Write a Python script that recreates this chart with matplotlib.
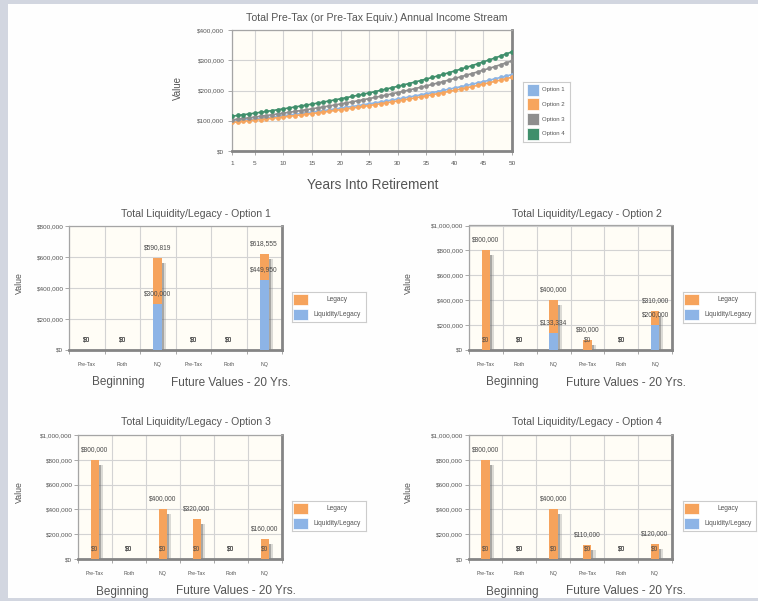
import matplotlib.pyplot as plt
from matplotlib.patches import Rectangle
from matplotlib.ticker import FuncFormatter, FixedLocator

plt.rcParams['font.family'] = ['Liberation Sans', 'DejaVu Sans']

W, H = 758, 601

# ---- income stream data (thousands of dollars per year) ----
years = list(range(1, 51))
income_opt1 = [98.0, 99.9, 101.9, 103.9, 105.9, 108.0, 110.1, 112.2, 114.4, 116.6,
               118.9, 121.2, 123.6, 126.0, 128.5, 131.0, 133.5, 136.2, 138.8, 141.5,
               144.3, 147.1, 150.0, 152.9, 155.9, 158.9, 162.0, 165.2, 168.4, 171.7,
               175.1, 178.5, 182.0, 185.5, 189.2, 192.9, 196.6, 200.5, 204.4, 208.4,
               212.4, 216.6, 220.8, 225.1, 229.5, 234.0, 238.6, 243.2, 248.0, 252.8]
income_opt2 = [94.5, 96.3, 98.2, 100.2, 102.1, 104.1, 106.1, 108.2, 110.3, 112.5,
               114.7, 116.9, 119.2, 121.5, 123.9, 126.3, 128.8, 131.3, 133.9, 136.5,
               139.1, 141.9, 144.6, 147.5, 150.3, 153.3, 156.3, 159.3, 162.4, 165.6,
               168.8, 172.1, 175.5, 178.9, 182.4, 186.0, 189.6, 193.3, 197.1, 200.9,
               204.8, 208.8, 212.9, 217.1, 221.3, 225.6, 230.1, 234.5, 239.1, 243.8]
income_opt3 = [103.0, 105.3, 107.5, 109.9, 112.3, 114.8, 117.3, 119.9, 122.6, 125.2,
               127.9, 130.7, 133.6, 136.6, 139.5, 142.6, 145.7, 148.9, 152.2, 155.5,
               158.9, 162.4, 166.0, 169.7, 173.3, 177.1, 181.0, 185.0, 189.1, 193.2,
               197.4, 201.7, 206.2, 210.7, 215.3, 220.0, 224.8, 229.7, 234.8, 240.0,
               245.2, 250.6, 256.1, 261.6, 267.5, 273.2, 279.2, 285.4, 291.6, 298.0]
income_opt4 = [115.0, 117.5, 120.0, 122.6, 125.3, 128.0, 130.7, 133.6, 136.5, 139.4,
               142.4, 145.5, 148.6, 151.9, 155.1, 158.5, 161.9, 165.4, 169.0, 172.6,
               176.4, 180.2, 184.1, 188.1, 192.1, 196.3, 200.5, 204.9, 209.3, 213.8,
               218.4, 223.1, 228.0, 232.9, 237.9, 243.1, 248.3, 253.7, 259.2, 264.8,
               270.5, 276.4, 282.3, 288.4, 294.7, 301.0, 307.5, 314.2, 321.0, 327.9]
option_names = ['Option 1', 'Option 2', 'Option 3', 'Option 4']
line_colors = ['#8db4e3', '#f7a55d', '#8e8e8e', '#3f8f6b']

# ---- liquidity / legacy data ----
categories = ['Pre-Tax', 'Roth', 'NQ', 'Pre-Tax', 'Roth', 'NQ']
legacy_opt1 = [0, 0, 590819, 0, 0, 618555]
liquidity_opt1 = [0, 0, 300000, 0, 0, 449950]
legacy_opt2 = [800000, 0, 400000, 80000, 0, 310000]
liquidity_opt2 = [0, 0, 133334, 0, 0, 200000]
legacy_opt3 = [800000, 0, 400000, 320000, 0, 160000]
liquidity_opt3 = [0, 0, 0, 0, 0, 0]
legacy_opt4 = [800000, 0, 400000, 110000, 0, 120000]
liquidity_opt4 = [0, 0, 0, 0, 0, 0]

ORANGE = '#f6a35c'
BLUE = '#8db4e6'
TXT = '#555555'
GRID = '#d3d3d3'

money = FuncFormatter(lambda v, p: '${:,.0f}'.format(v))

fig = plt.figure(figsize=(W / 100, H / 100), dpi=100, facecolor='#d2d6e0')
fig.patches.append(Rectangle((8 / W, 1 - 598 / H), 750 / W, 594 / H,
                             transform=fig.transFigure, facecolor='#fefefe',
                             edgecolor='none', zorder=-5))


def px_axes(x0, y0, x1, y1):
    return fig.add_axes([x0 / W, 1 - y1 / H, (x1 - x0) / W, (y1 - y0) / H])


def fig_text(x, y, s, **kw):
    fig.text(x / W, 1 - y / H, s, ha='center', va='center', color=TXT, **kw)


def style_frame(ax):
    ax.set_facecolor('#fffdf6')
    for s in ['top', 'left']:
        ax.spines[s].set_color('#a5a5a5')
        ax.spines[s].set_linewidth(0.9)
    for s in ['right', 'bottom']:
        ax.spines[s].set_color('#858585')
        ax.spines[s].set_linewidth(2.0)
    ax.tick_params(length=3, width=0.6, color='#9a9a9a', labelcolor=TXT, labelsize=4.6, pad=1)
    ax.yaxis.set_major_formatter(money)
    ax.set_axisbelow(True)


def legend_box(x0, y0, x1, y1, labels, colors, text_x, rows, patch_x, patch_h, fs, center):
    lg = px_axes(x0, y0, x1, y1)
    lg.set_xlim(0, x1 - x0)
    lg.set_ylim(y1 - y0, 0)
    lg.set_xticks([])
    lg.set_yticks([])
    lg.set_facecolor('white')
    for s in lg.spines.values():
        s.set_color('#cccccc')
        s.set_linewidth(0.8)
    for lab, col, ry in zip(labels, colors, rows):
        lg.add_patch(Rectangle((patch_x[0], ry - patch_h / 2), patch_x[1] - patch_x[0], patch_h,
                               facecolor=col, edgecolor='white', lw=0.5))
        lg.text(text_x, ry, lab, fontsize=fs, color=TXT, va='center',
                ha='center' if center else 'left')


# ---- top chart: annual income stream ----
ax = px_axes(232, 30, 512, 151)
style_frame(ax)
series = [income_opt1, income_opt2, income_opt3, income_opt4]
for vals, col in zip(series, line_colors):
    ax.plot(years, [v * 1000 for v in vals], color=col, lw=1.2, marker='o',
            markersize=3.4, markeredgewidth=0, zorder=3)
ax.set_xlim(1, 50)
ax.set_ylim(0, 400000)
ax.set_xticks([1, 5, 10, 15, 20, 25, 30, 35, 40, 45, 50])
ax.set_yticks([0, 100000, 200000, 300000, 400000])
ax.tick_params(axis='x', pad=4)
ax.tick_params(axis='y', pad=2.5)
ax.grid(color=GRID, lw=0.8)
fig_text(377, 18, 'Total Pre-Tax (or Pre-Tax Equiv.) Annual Income Stream', fontsize=7.6,
         fontweight='medium')
fig_text(178, 88, 'Value', fontsize=7, rotation=90)
fig_text(373, 185, 'Years Into Retirement', fontsize=9.8)
legend_box(523, 82, 570, 142, option_names, line_colors, 19.3, [8, 22.3, 37.3, 52],
           (3.7, 16.3), 12, 4.3, False)

# ---- bar panels ----
panels = [
    ('Total Liquidity/Legacy - Option 1', legacy_opt1, liquidity_opt1, (69, 226, 282, 350), 800000,
     (196, 214), (19, 283), (118, 231, 382.5), (292, 292, 366, 322)),
    ('Total Liquidity/Legacy - Option 2', legacy_opt2, liquidity_opt2, (469, 225.5, 672, 350), 1000000,
     (587, 214), (408, 283), (512, 626, 382.5), (683, 292, 755, 323)),
    ('Total Liquidity/Legacy - Option 3', legacy_opt3, liquidity_opt3, (78, 435, 282, 559), 1000000,
     (196, 422), (19, 492), (122, 236, 591.5), (292, 501, 366, 531)),
    ('Total Liquidity/Legacy - Option 4', legacy_opt4, liquidity_opt4, (468.5, 435, 672, 559), 1000000,
     (587, 422), (408, 492), (512, 626, 591.5), (683, 501, 756, 531)),
]

xs = list(range(len(categories)))
bw = 0.25
for title, legacy, liquidity, box, ymax, tpos, vpos, gpos, lbox in panels:
    ax = px_axes(*box)
    style_frame(ax)
    ax.set_xlim(-0.5, 5.5)
    ax.set_ylim(0, ymax)
    ax.set_yticks(list(range(0, ymax + 1, 200000)))
    ax.set_xticks(xs)
    ax.set_xticklabels(categories)
    ax.xaxis.set_minor_locator(FixedLocator([i + 0.5 for i in range(-1, 6)]))
    ax.tick_params(axis='x', which='major', length=0, labelsize=3.8, pad=8.5)
    ax.tick_params(axis='x', which='minor', length=3, width=0.6, color='#9a9a9a')
    ax.grid(axis='y', color=GRID, lw=0.8)
    ax.grid(axis='x', which='minor', color=GRID, lw=0.8)

    # drop shadow behind each bar, darker close to the bar
    dy = ymax * 0.04
    tops = [max(a, b) for a, b in zip(legacy, liquidity)]
    sh = [t - dy if t > 0 else 0 for t in tops]
    ax.bar([x + 0.12 for x in xs], sh, bw, color='#8a8a8a', alpha=0.3, zorder=2, lw=0)
    ax.bar([x + 0.06 for x in xs], sh, bw, color='#6a6a6a', alpha=0.45, zorder=2, lw=0)
    ax.bar(xs, legacy, bw, color=ORANGE, zorder=3, lw=0)
    ax.bar(xs, liquidity, bw, color=BLUE, zorder=4, lw=0)

    for x, v in zip(xs, legacy):
        ax.annotate('${:,.0f}'.format(v), (x, v), xytext=(0, 7.5), textcoords='offset points',
                    ha='center', va='center', fontsize=4.8, color='#4a4a4a', zorder=6)
    for x, v in zip(xs, liquidity):
        ax.annotate('${:,.0f}'.format(v), (x, v), xytext=(0, 7.5), textcoords='offset points',
                    ha='center', va='center', fontsize=4.8, color='#4a4a4a', zorder=6)

    fig_text(tpos[0], tpos[1], title, fontsize=7.6, fontweight='medium')
    fig_text(vpos[0], vpos[1], 'Value', fontsize=6.3, rotation=90)
    fig_text(gpos[0], gpos[2], 'Beginning', fontsize=8.5)
    fig_text(gpos[1], gpos[2], 'Future Values - 20 Yrs.', fontsize=8.5)
    legend_box(*lbox, ['Legacy', 'Liquidity/Legacy'], [ORANGE, BLUE], 45, [7.5, 22.5],
               (1.3, 16.3), 11.5, 4.8, True)

fig.savefig('out.png', dpi=100, facecolor=fig.get_facecolor())
